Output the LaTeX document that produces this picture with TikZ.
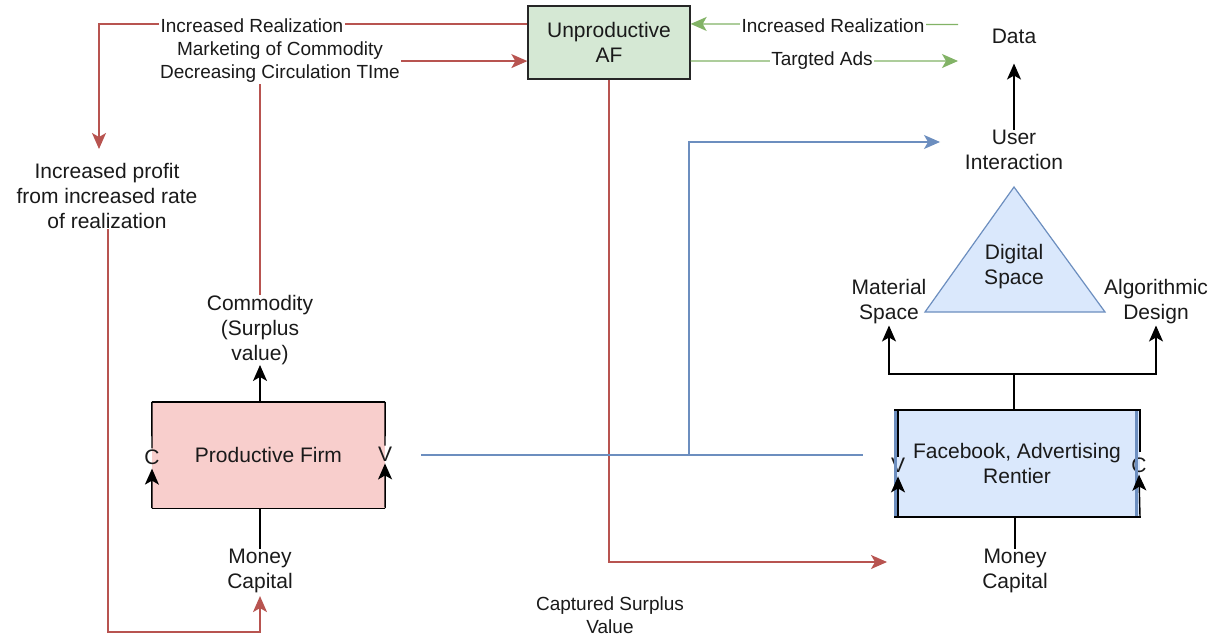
\documentclass[tikz,border=0pt]{standalone}
\usepackage{fontspec}
\setmainfont{Liberation Sans}
\usetikzlibrary{arrows.meta,calc}
\definecolor{redc}{HTML}{B85450}
\definecolor{greenc}{HTML}{82B366}
\definecolor{bluec}{HTML}{6C8EBF}
\definecolor{affill}{HTML}{D5E8D4}
\definecolor{pffill}{HTML}{F8CECC}
\definecolor{fbfill}{HTML}{DAE8FC}
\definecolor{txtc}{HTML}{1A1A1A}
\begin{document}
\begin{tikzpicture}[x=1pt,y=-1pt,
  txt/.style={font=\fontsize{21}{25}\selectfont, align=center, inner sep=0pt, text=txtc},
  elab/.style={font=\fontsize{19}{23}\selectfont, align=center, inner sep=1.5pt, fill=white, text=txtc},
  boxn/.style={txt, line width=1.3pt, draw=black!85},
  blk/.style={draw=black, line width=1.4pt},
  arr/.style={-{Stealth[length=16pt,width=14pt,inset=4pt]}},
  redl/.style={draw=redc, line width=1.3pt},
  greenl/.style={draw=greenc, line width=1.3pt},
  bluel/.style={draw=bluec, line width=1.3pt}]
\useasboundingbox[fill=white] (0,0) rectangle (1222,637);

% boxes
\node[boxn, fill=affill, minimum width=162pt, minimum height=73pt] (af) at (609,42.5) {Unproductive\\AF};
\node[txt, fill=pffill, minimum width=233pt, minimum height=106pt] (pf) at (268.5,455) {Productive Firm};
\node[txt, fill=fbfill, minimum width=246pt, minimum height=107pt] (fb) at (1017,463.5) {Facebook, Advertising\\Rentier};

% free texts
\node[txt] (data) at (1014,36) {Data};
\node[txt] (user) at (1014,150) {User\\Interaction};
\node[txt] (mat) at (889,302) {Material\\Space};
\node[txt] (alg) at (1156,302) {Algorithmic\\Design};
\node[txt] (comm) at (260,330) {Commodity\\(Surplus\\value)};
\node[txt] (mc1) at (260,571) {Money\\Capital};
\node[txt] (mc2) at (1015,571) {Money\\Capital};
\node[txt] (profit) at (107,196) {Increased profit\\from increased rate\\of realization};
\node[elab, fill=none] (csv) at (610,615) {Captured Surplus\\Value};

% triangle
\coordinate (tA) at (1014,187);
\coordinate (tB) at (925,312);
\coordinate (tC) at (1105,312);
\path[draw=bluec, fill=fbfill, line width=1.2pt] (tA) -- (tB) -- (tC) -- cycle;
\node[txt] (dig) at (1014,267) {Digital\\Space};

% C / V letters
\node[txt, inner sep=1pt] (pfC) at (152,457) {C};
\node[txt, inner sep=1pt] (pfV) at (385,454) {V};
\node[txt, inner sep=1pt] (fbV) at (898,465) {V};
\node[txt, inner sep=1pt] (fbC) at (1139,465) {C};

% productive firm borders
\draw[blk] (pf.north west) -- (pf.north east);
\draw[blk] (pf.south west) -- (pf.south east);
\draw[blk] (pf.north west) -- (pfC.north);
\draw[blk] (pf.north east) -- (pfV.north);

% facebook box borders
\draw[bluec, line width=2.5pt] (895.5,410) -- (895.5,517);
\draw[bluec, line width=2.5pt] (1136.5,410) -- (1136.5,517);
\draw[blk] (894,410) -- (1140.5,410);
\draw[blk] (894,517) -- (1140.5,517);
\draw[blk] (1140,410) -- (1140,452);
\draw[blk] (898,410) -- (fbV.north);

% side arrows
\draw[blk, arr] (pf.south west) -- ([yshift=-3pt]pfC.south);
\draw[blk, arr] (pf.south east) -- ([yshift=-1pt]pfV.south);
\draw[blk, arr] (898,517) -- ([yshift=-3pt]fbV.south);
\draw[blk, arr] (1140,517) -- ([yshift=-1pt]fbC.south);

% black connectors
\draw[blk, arr] (comm.south |- pf.north) -- (comm.south);
\draw[blk] (mc1.north |- pf.south) -- (mc1.north);
\draw[blk] (mc2.north |- fb.south) -- (mc2.north);
\draw[blk, arr, shorten >=20pt] (user.north) -- (data.south);
\coordinate (fj) at (1014,374);
\draw[blk, arr] (fj |- fb.north) -- (fj) -| ([yshift=-1pt]mat.south);
\draw[blk, arr] (fj) -| ([yshift=-1pt]alg.south);

% red connectors
\coordinate (afW1) at ($(af.north west)!0.25!(af.south west)$);
\coordinate (afW2) at ($(af.north west)!0.75!(af.south west)$);
\coordinate (afE1) at ($(af.north east)!0.25!(af.south east)$);
\coordinate (afE2) at ($(af.north east)!0.75!(af.south east)$);
\coordinate (ptip) at (99,149);
\draw[redl, arr] (afW1) -| (ptip);
\draw[redl, arr] (comm.north) |- (afW2);
\coordinate (cst) at (887,562);
\draw[redl, arr] (af.south) |- (cst);
\coordinate (rb) at (108,632);
\draw[redl, arr] (profit.south -| rb) -- (rb) -| ([yshift=-3pt]mc1.south);

% green connectors
\coordinate (g1) at (958,24.5);
\coordinate (g2) at (958,61);
\draw[greenl, arr] (g1) -- (afE1);
\draw[greenl, arr] (afE2) -- (g2);

% blue connectors
\coordinate (bl) at (421,455);
\coordinate (br) at (863,455);
\coordinate (bj) at (689,455);
\coordinate (bt) at (940,142);
\draw[bluel] (bl) -- (br);
\draw[bluel, arr] (bj) |- (bt);

% edge labels
\node[elab] (ir1) at (252,26) {Increased Realization};
\node[elab] (mkt) at (280,62) {Marketing of Commodity\\Decreasing Circulation TIme};
\node[elab] (ir2) at (833,26) {Increased Realization};
\node[elab] (ads) at (822,61) {Targted Ads};
\end{tikzpicture}
\end{document}
